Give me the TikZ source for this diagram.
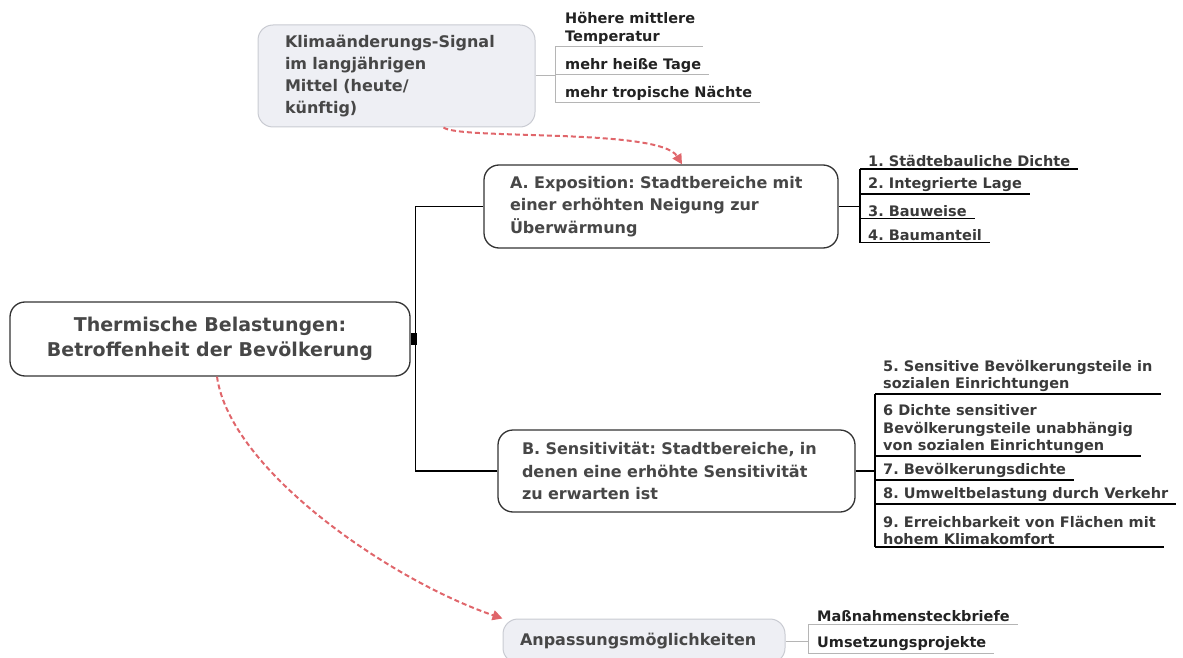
\documentclass[tikz,border=0pt]{standalone}
\usepackage{fontspec}
\setmainfont{DejaVu Sans}
\usepackage{xcolor}
\usetikzlibrary{arrows.meta,positioning}
\frenchspacing
\definecolor{inkgray}{HTML}{474747}
\definecolor{leafink}{HTML}{3A3A3A}
\definecolor{softink}{HTML}{222222}
\definecolor{softfill}{HTML}{EEEFF4}
\definecolor{softline}{HTML}{C9CBD2}
\definecolor{twiggray}{HTML}{B5B5B5}
\definecolor{hintred}{HTML}{E0666B}

\begin{document}
\begin{tikzpicture}[x=1pt, y=-1pt,
    hub/.style={draw=black!80, line width=1.3pt, rounded corners=15pt, fill=white, text=inkgray,
      align=left, font=\bfseries\fontsize{16}{22.5}\selectfont},
    soft/.style={hub, draw=softline, line width=1pt, fill=softfill},
    leaf/.style={anchor=south west, inner xsep=0pt, inner ysep=2pt, align=left, text=leafink,
      font=\bfseries\fontsize{14.5}{17.5}\selectfont},
    softleaf/.style={leaf, text=softink, font=\bfseries\fontsize{14.5}{18}\selectfont},
    twig/.style={draw=black, line width=1.1pt},
    softtwig/.style={draw=twiggray, line width=1pt},
    hint/.style={draw=hintred, line width=2pt, dash pattern=on 5pt off 3pt,
      -{Triangle[length=10pt,width=10pt]}}
  ]
  \useasboundingbox (0,0) rectangle (1183,658);

  % main topic and the two branches
  \node[hub, align=center, minimum width=400pt, minimum height=74pt,
    font=\bfseries\fontsize{19}{25}\selectfont] (root) at (210,339)
    {Thermische Belastungen:\\Betroffenheit der Bevölkerung};
  \node[hub, text width=302pt, inner xsep=26pt, minimum height=83pt] (expo) at (661,206.5)
    {A. Exposition: Stadtbereiche mit\\einer erhöhten Neigung zur\\Überwärmung};
  \node[hub, text width=309pt, inner xsep=24pt, minimum height=82pt] (sens) at (676.5,471)
    {B. Sensitivität: Stadtbereiche, in\\denen eine erhöhte Sensitivität\\zu erwarten ist};
  \node[soft, text width=223pt, inner xsep=27pt, minimum height=102pt,
    font=\bfseries\fontsize{16}{21.7}\selectfont] (klima) at (396.5,76)
    {Klimaänderungs-Signal\\im langjährigen\\Mittel (heute/\\künftig)};
  \node[soft, text width=248pt, inner xsep=17pt, minimum height=44pt] (anpass) at (644,641)
    {Anpassungsmöglichkeiten};

  \fill[black] ([yshift=6pt]root.east) rectangle ++(6,12);
  \coordinate (rknot) at ([xshift=5pt]root.east);
  \draw[twig, line width=1.4pt] (expo.west) -| (rknot);
  \draw[twig, line width=1.4pt] (sens.west) -| (rknot);

  % leaves of A
  \node[leaf] (a1) at (868,169) {1. Städtebauliche Dichte};
  \node[leaf] (a2) at (868,194) {2. Integrierte Lage};
  \node[leaf] (a3) at (868,218.5) {3. Bauweise};
  \node[leaf] (a4) at (868,242.5) {4. Baumanteil};
  \coordinate (aknot) at (860,206.5);
  \draw[twig] (expo.east) -- (aknot);
  \draw[twig] (aknot |- a1.south) -- (aknot |- a4.south);
  \foreach \n in {a1,a2,a3,a4}
    \draw[twig] (aknot |- \n.south) -- ([xshift=8pt]\n.south east);

  % leaves of B
  \node[leaf] (b5) at (883,394) {5. Sensitive Bevölkerungsteile in\\sozialen Einrichtungen};
  \node[leaf] (b6) at (883,456) {6 Dichte sensitiver\\Bevölkerungsteile unabhängig\\von sozialen Einrichtungen};
  \node[leaf] (b7) at (883,480) {7. Bevölkerungsdichte};
  \node[leaf] (b8) at (883,504) {8. Umweltbelastung durch Verkehr};
  \node[leaf] (b9) at (883,547) {9. Erreichbarkeit von Flächen mit\\hohem Klimakomfort};
  \coordinate (bknot) at (875,471);
  \draw[twig] (sens.east) -- (bknot);
  \draw[twig] (bknot |- b5.south) -- (bknot |- b9.south);
  \foreach \n in {b5,b6,b7,b8,b9}
    \draw[twig] (bknot |- \n.south) -- ([xshift=8pt]\n.south east);

  % climate signal
  \node[softleaf] (k1) at (565,47) {Höhere mittlere\\Temperatur};
  \node[softleaf] (k2) at (565,75) {mehr heiße Tage};
  \node[softleaf] (k3) at (565,103) {mehr tropische Nächte};
  \coordinate (kknot) at (555,76);
  \draw[softtwig] (klima.east) -- (kknot);
  \draw[softtwig] (kknot |- k1.south) -- (kknot |- k3.south);
  \foreach \n in {k1,k2,k3}
    \draw[softtwig] (kknot |- \n.south) -- ([xshift=8pt]\n.south east);

  % adaptation
  \node[softleaf] (p1) at (817,624) {Maßnahmensteckbriefe};
  \node[softleaf] (p2) at (817,653) {Umsetzungsprojekte};
  \coordinate (pknot) at (808,641);
  \draw[softtwig] (anpass.east) -- (pknot);
  \draw[softtwig] (pknot |- p1.south) -- (pknot |- p2.south);
  \foreach \n in {p1,p2}
    \draw[softtwig] (pknot |- \n.south) -- ([xshift=8pt]\n.south east);

  \draw[hint] ([xshift=47pt]klima.south) .. controls (460,140) and (660,128) .. ([xshift=21pt]expo.north);
  \draw[hint] ([xshift=7pt]root.south) .. controls (230,470) and (390,580) .. (anpass.north west);
\end{tikzpicture}
\end{document}
